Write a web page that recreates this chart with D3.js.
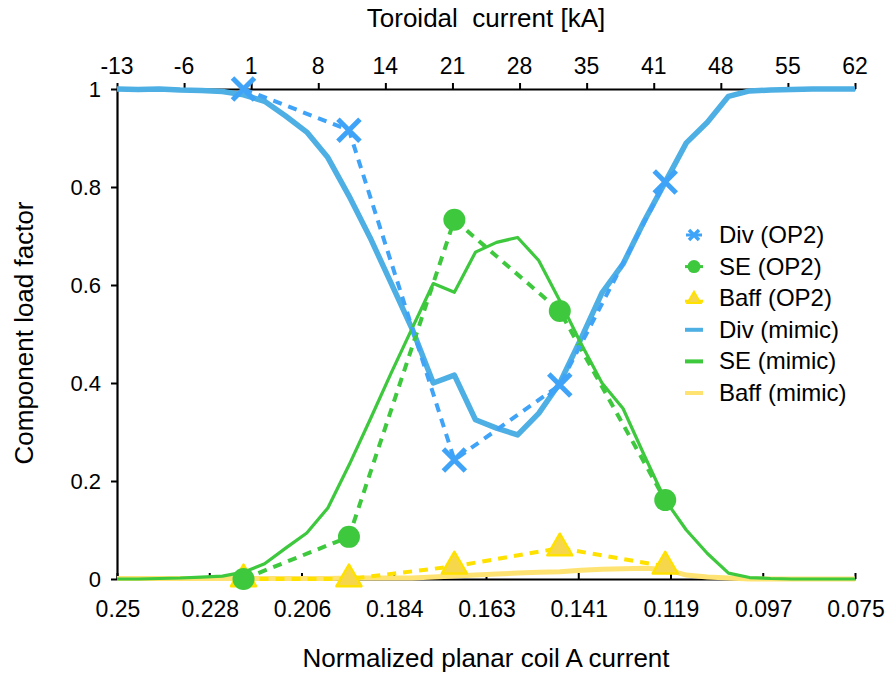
<!DOCTYPE html>
<html>
<head>
<meta charset="utf-8">
<script src="https://cdn.jsdelivr.net/npm/d3@7/dist/d3.min.js"></script>
<style>
  html, body { margin: 0; padding: 0; background: #fff; }
  svg text { font-family: "Liberation Sans", Arial, Helvetica, sans-serif; fill: #000; }
</style>
</head>
<body>
<svg id="chart" width="893" height="677"></svg>
<script>
// ---- data ----
const mimicX = [0.250,0.245,0.240,0.235,0.230,0.225,0.220,0.215,0.210,0.205,0.200,0.195,
                0.190,0.185,0.180,0.175,0.170,0.165,0.160,0.155,0.150,0.145,0.140,0.135,
                0.130,0.125,0.120,0.115,0.110,0.105,0.100,0.095,0.090,0.085,0.080,0.075];
const divMimic = [1.000,0.999,1.000,0.998,0.997,0.995,0.988,0.975,0.945,0.912,0.860,0.782,
                  0.697,0.604,0.510,0.400,0.416,0.325,0.308,0.294,0.338,0.400,0.490,0.584,
                  0.643,0.730,0.810,0.890,0.932,0.985,0.996,0.998,0.999,1.000,1.000,1.000];
const seMimic = [0.000,0.000,0.001,0.002,0.004,0.006,0.014,0.031,0.063,0.094,0.145,0.232,
                 0.325,0.420,0.512,0.603,0.585,0.667,0.687,0.697,0.650,0.568,0.481,0.400,
                 0.348,0.253,0.161,0.100,0.052,0.012,0.003,0.001,0.000,0.000,0.000,0.000];
const baffMimic = [0.001,0.001,0.001,0.001,0.001,0.001,0.001,0.001,0.001,0.001,0.001,0.002,
                   0.002,0.002,0.002,0.004,0.006,0.008,0.010,0.012,0.014,0.015,0.018,0.020,
                   0.021,0.022,0.020,0.008,0.004,0.002,0.000,0.000,0.000,0.000,0.000,0.000];
const op2X = [0.220, 0.195, 0.170, 0.145, 0.120];
const divOP2 = [1.000, 0.916, 0.243, 0.396, 0.810];
const seOP2 = [0.000, 0.086, 0.733, 0.547, 0.161];
const baffOP2 = [0.000, 0.000, 0.026, 0.063, 0.026];

const bottomTickLabels = ["0.25","0.228","0.206","0.184","0.163","0.141","0.119","0.097","0.075"];
const topTickLabels = ["-13","-6","1","8","14","21","28","35","41","48","55","62"];
const yTicks = [0, 0.2, 0.4, 0.6, 0.8, 1];
const yTickLabels = ["0","0.2","0.4","0.6","0.8","1"];

const legendLabels = ["Div (OP2)","SE (OP2)","Baff (OP2)","Div (mimic)","SE (mimic)","Baff (mimic)"];

// ---- styles ----
const C = {
  divMark: "#3FA3F7", divMimic: "#4DAFE3", se: "#3DC83D",
  baff: "#FFE100", baffFill: "#F6D74C", baffMimic: "#FFE372"
};

const svg = d3.select("#chart");
const L = 117, R = 855, T = 89, B = 579;

const x = d3.scaleLinear().domain([0.25, 0.075]).range([L, R]);
const y = d3.scaleLinear().domain([0, 1]).range([B, T]);
const xb = d3.scalePoint().domain(bottomTickLabels).range([L, R]);
const xt = d3.scalePoint().domain(topTickLabels).range([L, R]);

// ---- axes ----
const gB = svg.append("g").attr("transform", `translate(0,${B})`)
  .call(d3.axisBottom(xb).tickSize(-6).tickSizeOuter(0).tickPadding(0));
gB.selectAll("text").remove();
const gT = svg.append("g").attr("transform", `translate(0,${T})`)
  .call(d3.axisTop(xt).tickSize(6).tickSizeOuter(0));
gT.selectAll("text").remove();
const gL = svg.append("g").attr("transform", `translate(${L},0)`)
  .call(d3.axisLeft(y).tickValues(yTicks).tickSize(6).tickSizeOuter(0));
gL.selectAll("text").remove();
svg.selectAll(".domain, .tick line").attr("stroke", "#000").attr("stroke-width", 2);
svg.selectAll(".domain").attr("stroke-width", 2.2);

// tick labels
svg.append("g").selectAll("text").data(bottomTickLabels).join("text")
  .attr("x", d => xb(d) + 1).attr("y", 617).attr("text-anchor", "middle")
  .attr("font-size", 23).text(d => d);
svg.append("g").selectAll("text").data(topTickLabels).join("text")
  .attr("x", d => xt(d)).attr("y", 74).attr("text-anchor", "middle")
  .attr("font-size", 23).text(d => d);
svg.append("g").selectAll("text").data(yTicks).join("text")
  .attr("x", 101).attr("y", d => y(d) + 8).attr("text-anchor", "end")
  .attr("font-size", 22).text((d, i) => yTickLabels[i]);

// axis titles
svg.append("text").attr("x", 486).attr("y", 27).attr("text-anchor", "middle")
  .attr("font-size", 26).attr("xml:space", "preserve").text("Toroidal  current [kA]");
svg.append("text").attr("x", 486).attr("y", 667).attr("text-anchor", "middle")
  .attr("font-size", 26).text("Normalized planar coil A current");
svg.append("text").attr("transform", "translate(33,333) rotate(-90)").attr("text-anchor", "middle")
  .attr("font-size", 26).text("Component load factor");

// ---- mimic lines ----
const lineM = d3.line().x((d, i) => x(mimicX[i])).y(d => y(d));
svg.append("path").attr("d", lineM(baffMimic)).attr("fill", "none")
  .attr("stroke", C.baffMimic).attr("stroke-width", 5).attr("stroke-linejoin", "round");
svg.append("path").attr("d", lineM(divMimic)).attr("fill", "none")
  .attr("stroke", C.divMimic).attr("stroke-width", 5.5).attr("stroke-linejoin", "round");
svg.append("path").attr("d", lineM(seMimic)).attr("fill", "none")
  .attr("stroke", C.se).attr("stroke-width", 3.2).attr("stroke-linejoin", "round");

// ---- OP2 dashed lines ----
const lineO = d3.line().x((d, i) => x(op2X[i])).y(d => y(d));
[[baffOP2, C.baff], [seOP2, C.se], [divOP2, C.divMark]].forEach(([arr, col]) => {
  svg.append("path").attr("d", lineO(arr)).attr("fill", "none")
    .attr("stroke", col).attr("stroke-width", 4).attr("stroke-dasharray", "9,7");
});

// ---- markers ----
function triPath(cx, cy, s) {
  const h = s * Math.sqrt(3) / 2;
  return `M${cx},${cy - 2*h/3}L${cx + s/2},${cy + h/3}L${cx - s/2},${cy + h/3}Z`;
}
function crossPath(cx, cy, r) {
  return `M${cx - r},${cy - r}L${cx + r},${cy + r}M${cx - r},${cy + r}L${cx + r},${cy - r}`;
}
svg.append("g").selectAll("path").data(baffOP2).join("path")
  .attr("d", (d, i) => triPath(x(op2X[i]), y(d), 25))
  .attr("fill", C.baffFill).attr("stroke", C.baff).attr("stroke-width", 2.5).attr("stroke-linejoin", "round");
svg.append("g").selectAll("circle").data(seOP2).join("circle")
  .attr("cx", (d, i) => x(op2X[i])).attr("cy", d => y(d)).attr("r", 11).attr("fill", C.se);
svg.append("g").selectAll("path").data(divOP2).join("path")
  .attr("d", (d, i) => crossPath(x(op2X[i]), y(d), 11))
  .attr("fill", "none").attr("stroke", C.divMark).attr("stroke-width", 5);

// ---- legend ----
const lgX = 694, lgY0 = 235, lgStep = 31.6;
const lg = svg.append("g");
legendLabels.forEach((lab, i) => {
  const cy = lgY0 + i * lgStep;
  if (i === 0) {
    lg.append("path").attr("d", `M${lgX-8},${cy}L${lgX+8},${cy}`).attr("stroke", C.divMark).attr("stroke-width", 3);
    lg.append("path").attr("d", crossPath(lgX, cy, 5)).attr("stroke", C.divMark).attr("stroke-width", 3.5);
  } else if (i === 1) {
    lg.append("path").attr("d", `M${lgX-9},${cy}L${lgX+9},${cy}`).attr("stroke", C.se).attr("stroke-width", 3);
    lg.append("circle").attr("cx", lgX).attr("cy", cy).attr("r", 6.5).attr("fill", C.se);
  } else if (i === 2) {
    lg.append("path").attr("d", `M${lgX-9},${cy+3}L${lgX+9},${cy+3}`).attr("stroke", C.baff).attr("stroke-width", 3);
    lg.append("path").attr("d", triPath(lgX, cy + 1, 13)).attr("fill", C.baffFill).attr("stroke", C.baff).attr("stroke-width", 2);
  } else {
    const col = [C.divMimic, C.se, C.baffMimic][i - 3];
    lg.append("path").attr("d", `M${lgX-9},${cy}L${lgX+9},${cy}`).attr("stroke", col).attr("stroke-width", 4);
  }
  lg.append("text").attr("x", 719).attr("y", cy + 8).attr("font-size", 24).text(lab);
});
</script>
</body>
</html>
